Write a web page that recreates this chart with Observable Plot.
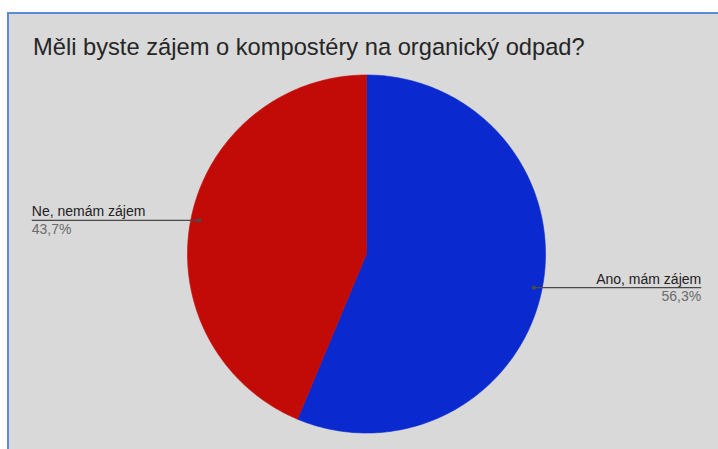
<!DOCTYPE html>
<html><head><meta charset="utf-8">
<script src="https://cdn.jsdelivr.net/npm/d3@7"></script>
<script src="https://cdn.jsdelivr.net/npm/@observablehq/plot@0.6"></script>
<style>
html,body{margin:0;padding:0;background:#fff;width:718px;height:449px;overflow:hidden;}
#panel{position:absolute;left:7px;top:12px;width:711px;height:437px;background:#d9d9d9;border-left:2px solid #5e89d9;border-top:2px solid #5e89d9;box-sizing:border-box;}
#title{position:absolute;left:33px;top:34px;font-size:23.7px;line-height:27px;font-family:"Liberation Sans",Arial,sans-serif;color:#262626;white-space:nowrap;}
#chart{position:absolute;left:0;top:0;}
</style></head>
<body>
<div id="panel"></div>
<div id="title">Měli byste zájem o kompostéry na organický odpad?</div>
<div id="chart"></div>
<script>
const labels = ["Ano, mám zájem", "Ne, nemám zájem"];
const values = [56.3, 43.7];
const percentLabels = ["56,3%", "43,7%"];
const colors = ["#0a2ad0", "#c20b06"];

const arcs = d3.pie().sort(null).value(d => d)(values);

// slice outlines in unit-circle coordinates (y up)
const slicePts = arcs.flatMap((a, i) => {
  const n = 180;
  const pts = [{i, x: 0, y: 0}];
  for (let k = 0; k <= n; k++) {
    const t = a.startAngle + (a.endAngle - a.startAngle) * k / n;
    pts.push({i, x: Math.sin(t), y: Math.cos(t)});
  }
  pts.push({i, x: 0, y: 0});
  return pts;
});

const labelX = 1.87;
const leaders = arcs.map((a, i) => {
  const m = (a.startAngle + a.endAngle) / 2;
  const px = 0.954 * Math.sin(m), py = 0.954 * Math.cos(m);
  const side = Math.sin(m) >= 0 ? 1 : -1;
  return {i, x1: px, y1: py, x2: side * labelX, y2: py, side,
          label: labels[i], pct: percentLabels[i]};
});
const rightL = leaders.filter(d => d.side > 0);
const leftL = leaders.filter(d => d.side < 0);

const font = "Liberation Sans, Arial, sans-serif";
const textMarks = [[rightL, "end"], [leftL, "start"]].flatMap(([data, anchor]) => [
  Plot.text(data, {x: "x2", y: "y2", text: "label", textAnchor: anchor,
    dy: -8.5, fontSize: 14, fill: "#222", lineAnchor: "middle"}),
  Plot.text(data, {x: "x2", y: "y2", text: "pct", textAnchor: anchor,
    dy: 9, fontSize: 14, fill: "#6b6b6b", lineAnchor: "middle"})
]);

const chart = Plot.plot({
  width: 718,
  height: 449,
  margin: 0,
  x: {domain: [-1, 1], range: [187, 545], axis: null},
  y: {domain: [-1, 1], range: [432.5, 74.5], axis: null},
  style: {background: "transparent", fontFamily: font},
  marks: [
    ...arcs.map((a, i) => Plot.line(slicePts.filter(d => d.i === i), {
      x: "x", y: "y", fill: colors[i], stroke: colors[i], strokeWidth: 0.6, curve: "linear"
    })),
    Plot.link(leaders, {x1: "x1", y1: "y1", x2: "x2", y2: "y2", stroke: "#4a4a4a", strokeWidth: 1.3}),
    Plot.dot(leaders, {x: "x1", y: "y1", r: 2.2, fill: "#4a4a4a"}),
    ...textMarks
  ]
});
document.getElementById("chart").appendChild(chart);
</script>
</body></html>
